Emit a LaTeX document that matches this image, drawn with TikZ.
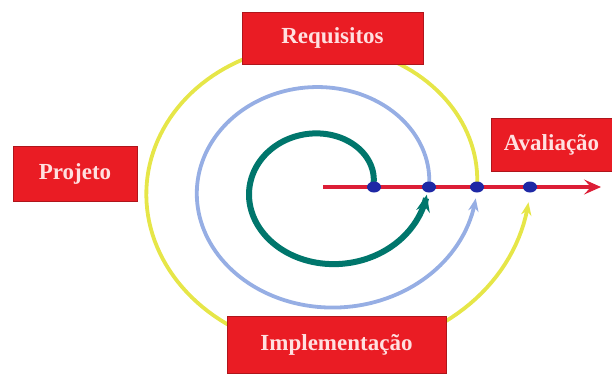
\documentclass[tikz,border=0pt]{standalone}
\usepackage{fontspec}
\setmainfont{Liberation Serif}
\usetikzlibrary{positioning}
\usetikzlibrary{shapes.geometric}
\usetikzlibrary{arrows.meta}
\definecolor{caixa}{RGB}{234,28,36}
\definecolor{amarelo}{RGB}{230,230,72}
\definecolor{azul}{RGB}{150,174,228}
\definecolor{verde}{RGB}{0,118,108}
\definecolor{eixo}{RGB}{220,30,54}
\definecolor{ponto}{RGB}{30,40,165}
\tikzset{
	etapa/.style = {fill=caixa, draw=caixa!75!black, line width=0.8, text=white!88!red,
		font=\fontsize{23}{26}\selectfont\bfseries, inner sep=0},
	ponto/.style = {ellipse, fill=ponto, inner sep=0, minimum width=14, minimum height=11}
}

\begin{document}
\begin{tikzpicture}[x=1pt, y=-1pt]
		\useasboundingbox (0,0) rectangle (612,376);
		% espirais
		\foreach \cor/\raio/\passo/\largura/\ponta in {verde/48/55/6/17, azul/104/48/3.8/13, amarelo/152/53/3.8/13}
			\draw[\cor, line width=\largura, -{Stealth[length=\ponta pt, width=0.8*\ponta pt]}]
				plot[domain=0:355, samples=150, variable=\t]
				({325+(\raio+\passo/360*\t)*cos(\t)}, {187-0.86*(\raio+\passo/360*\t)*sin(\t)});
		% eixo
		\coordinate (inicio) at (323,187);
		\coordinate (fim) at (601,187);
		\draw[eixo, line width=3.5, -{Stealth[length=17pt, width=15pt, inset=7pt]}] (inicio) -- (fim);
		\foreach \x [count=\i] in {374, 429, 477, 530}
			\node[ponto] (p\i) at (\x,187) {};
		% etapas
		\node[etapa, minimum width=181, minimum height=52] (requisitos) at (332.5,38) {Requisitos};
		\node[etapa, minimum width=124, minimum height=55] (projeto) at (75,173.5) {Projeto};
		\node[etapa, minimum width=121, minimum height=53] (avaliacao) at (551.5,144.5) {Avaliação};
		\node[etapa, minimum width=219, minimum height=57] (implementacao) at (336.5,344.5) {Implementação};
	\end{tikzpicture}
\end{document}
